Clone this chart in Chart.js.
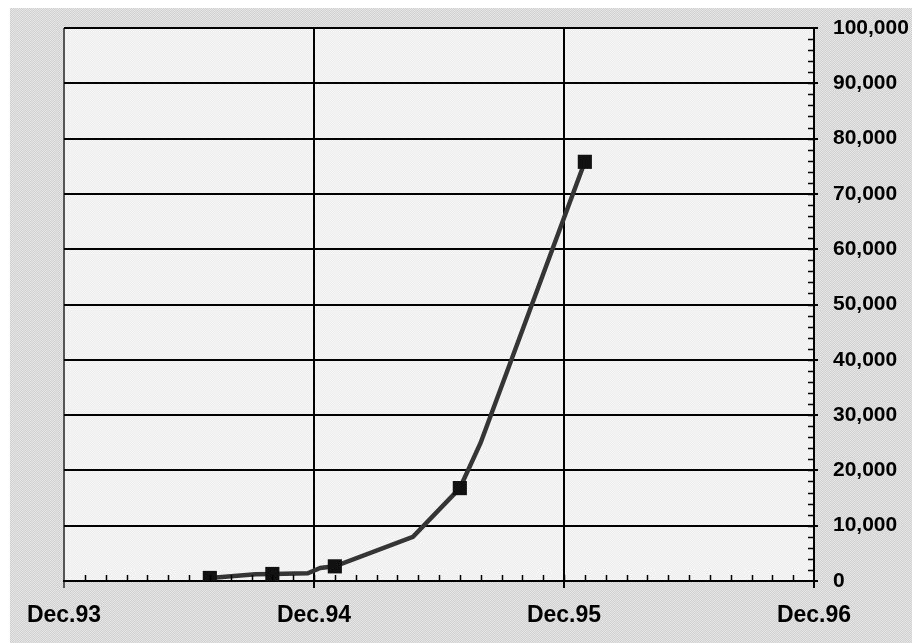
<!DOCTYPE html>
<html>
<head>
<meta charset="utf-8">
<script src="https://cdn.jsdelivr.net/npm/chart.js@4/dist/chart.umd.min.js"></script>
<style>
  html, body { margin: 0; padding: 0; background: #fff; }
  canvas { display: block; }
</style>
</head>
<body>
<canvas id="c" width="912" height="643"></canvas>
<script>
// months after Dec.93, and the value read at each line vertex
const months = [7, 9.2, 10, 11.7, 12.3, 13, 16.75, 19, 20, 25];
const values = [550, 1200, 1270, 1400, 2350, 2650, 8000, 16800, 25000, 75800];
const marked = [true, false, true, false, false, true, false, true, false, true];
const xTickLabels = ['Dec.93', 'Dec.94', 'Dec.95', 'Dec.96'];

// grey dithered look for the outer background
function dither(a, b) {
  const p = document.createElement('canvas');
  p.width = 2; p.height = 2;
  const g = p.getContext('2d');
  g.fillStyle = a; g.fillRect(0, 0, 2, 2);
  g.fillStyle = b; g.fillRect(0, 0, 1, 1); g.fillRect(1, 1, 1, 1);
  return p;
}

const backdrop = {
  id: 'backdrop',
  beforeDraw(chart) {
    const { ctx, chartArea: a, width, height } = chart;
    ctx.save();
    ctx.fillStyle = '#fff';
    ctx.fillRect(0, 0, width, height);
    ctx.fillStyle = ctx.createPattern(dither('#d2d2d2', '#e4e4e4'), 'repeat');
    ctx.fillRect(10, 8, width - 10, height - 8);
    ctx.fillStyle = ctx.createPattern(dither('#eeeeee', '#f6f6f6'), 'repeat');
    ctx.fillRect(a.left, a.top, a.right - a.left, a.bottom - a.top);
    ctx.restore();
  },
};

// small inward ticks: months on x, 2,000 steps on y
const minorTicks = {
  id: 'minorTicks',
  afterDatasetsDraw(chart) {
    const { ctx, chartArea: a, scales: { x, y } } = chart;
    ctx.save();
    ctx.strokeStyle = '#000';
    ctx.lineWidth = 1.5;
    ctx.beginPath();
    for (let m = 1; m < 36; m++) {
      const px = Math.round(x.getPixelForValue(m)) + 0.5;
      ctx.moveTo(px, a.bottom);
      ctx.lineTo(px, a.bottom - 6);
    }
    for (let v = 2000; v < 100000; v += 2000) {
      const py = Math.round(y.getPixelForValue(v)) + 0.5;
      ctx.moveTo(a.right, py);
      ctx.lineTo(a.right - 6, py);
    }
    ctx.stroke();
    ctx.restore();
  },
};

new Chart(document.getElementById('c'), {
  type: 'line',
  data: {
    datasets: [{
      data: months.map((m, i) => ({ x: m, y: values[i] })),
      borderColor: '#353535',
      borderWidth: 4.5,
      tension: 0,
      pointStyle: 'rect',
      pointRadius: marked.map(k => (k ? 10 : 0)),
      pointBackgroundColor: '#111',
      pointBorderWidth: 0,
    }],
  },
  options: {
    responsive: false,
    animation: false,
    layout: { padding: { left: 64, top: 28, right: 0, bottom: 0 } },
    plugins: { legend: { display: false }, tooltip: { enabled: false } },
    scales: {
      x: {
        type: 'linear',
        min: 0,
        max: 36,
        afterFit: s => { s.height = 62; },
        ticks: {
          stepSize: 12,
          padding: 14,
          color: '#000',
          font: { family: 'Liberation Sans', size: 23, weight: 'bold' },
          callback: v => xTickLabels[v / 12],
        },
        grid: {
          color: c => (c.index === 0 ? '#555' : '#000'),
          lineWidth: 2,
          tickLength: 7,
        },
        border: { color: '#000', width: 2 },
      },
      y: {
        position: 'right',
        min: 0,
        max: 100000,
        afterFit: s => { s.width = 98; },
        ticks: {
          stepSize: 10000,
          padding: 15,
          color: '#000',
          font: { family: 'Liberation Sans', size: 21, weight: 'bold' },
          callback: v => v.toLocaleString('en-US'),
        },
        grid: { color: '#000', lineWidth: 2, tickLength: 4 },
        border: { color: '#000', width: 2 },
      },
    },
  },
  plugins: [backdrop, minorTicks],
});
</script>
</body>
</html>
